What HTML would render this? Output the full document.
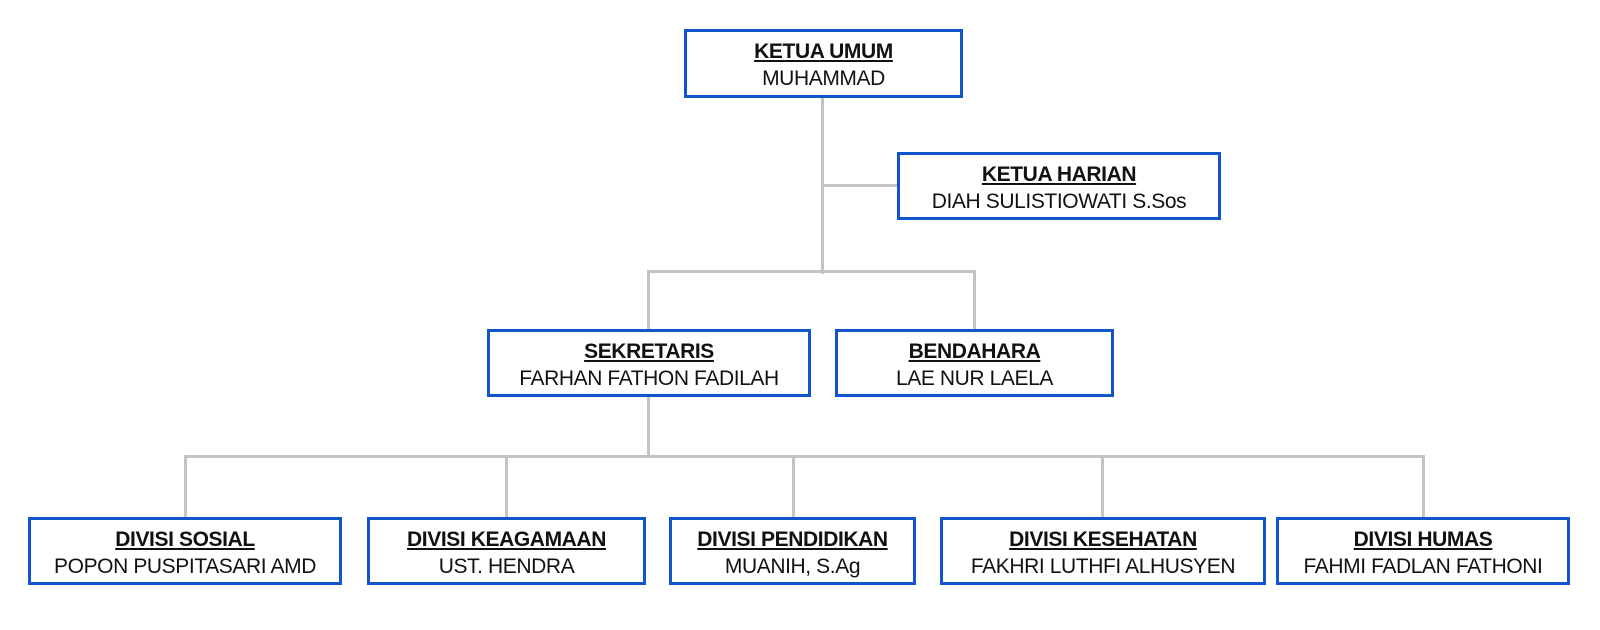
<!DOCTYPE html>
<html><head><meta charset="utf-8"><style>
body{margin:0;width:1600px;height:630px;background:#fff;position:relative;overflow:hidden;font-family:"Liberation Sans",sans-serif;}
.b{position:absolute;box-sizing:border-box;border:3px solid #1155cc;background:#fff;text-align:center;color:#111;font-size:21px;line-height:27px;padding-top:6px;letter-spacing:-0.4px;white-space:nowrap}
.b b{text-decoration:underline;display:block}
.l{position:absolute;background:#c3c3c3}
</style></head><body>
<div class="l" style="left:821px;top:96px;width:3px;height:178px"></div>
<div class="l" style="left:821px;top:184px;width:78px;height:3px"></div>
<div class="l" style="left:647px;top:270px;width:329px;height:3px"></div>
<div class="l" style="left:647px;top:270px;width:3px;height:60px"></div>
<div class="l" style="left:973px;top:270px;width:3px;height:60px"></div>
<div class="l" style="left:647px;top:395px;width:3px;height:63px"></div>
<div class="l" style="left:184px;top:455px;width:1241px;height:3px"></div>
<div class="l" style="left:184px;top:455px;width:3px;height:63px"></div>
<div class="l" style="left:505px;top:455px;width:3px;height:63px"></div>
<div class="l" style="left:792px;top:455px;width:3px;height:63px"></div>
<div class="l" style="left:1101px;top:455px;width:3px;height:63px"></div>
<div class="l" style="left:1422px;top:455px;width:3px;height:63px"></div>

<div class="b" style="left:684px;top:29px;width:279px;height:69px"><b>KETUA UMUM</b>MUHAMMAD</div>
<div class="b" style="left:897px;top:152px;width:324px;height:68px"><b>KETUA HARIAN</b>DIAH SULISTIOWATI S.Sos</div>
<div class="b" style="left:487px;top:329px;width:324px;height:68px"><b>SEKRETARIS</b>FARHAN FATHON FADILAH</div>
<div class="b" style="left:835px;top:329px;width:279px;height:68px"><b>BENDAHARA</b>LAE NUR LAELA</div>
<div class="b" style="left:28px;top:517px;width:314px;height:68px"><b>DIVISI SOSIAL</b>POPON PUSPITASARI AMD</div>
<div class="b" style="left:367px;top:517px;width:279px;height:68px"><b>DIVISI KEAGAMAAN</b>UST. HENDRA</div>
<div class="b" style="left:669px;top:517px;width:247px;height:68px"><b>DIVISI PENDIDIKAN</b>MUANIH, S.Ag</div>
<div class="b" style="left:940px;top:517px;width:326px;height:68px"><b>DIVISI KESEHATAN</b>FAKHRI LUTHFI ALHUSYEN</div>
<div class="b" style="left:1276px;top:517px;width:294px;height:68px"><b>DIVISI HUMAS</b>FAHMI FADLAN FATHONI</div>
</body></html>
